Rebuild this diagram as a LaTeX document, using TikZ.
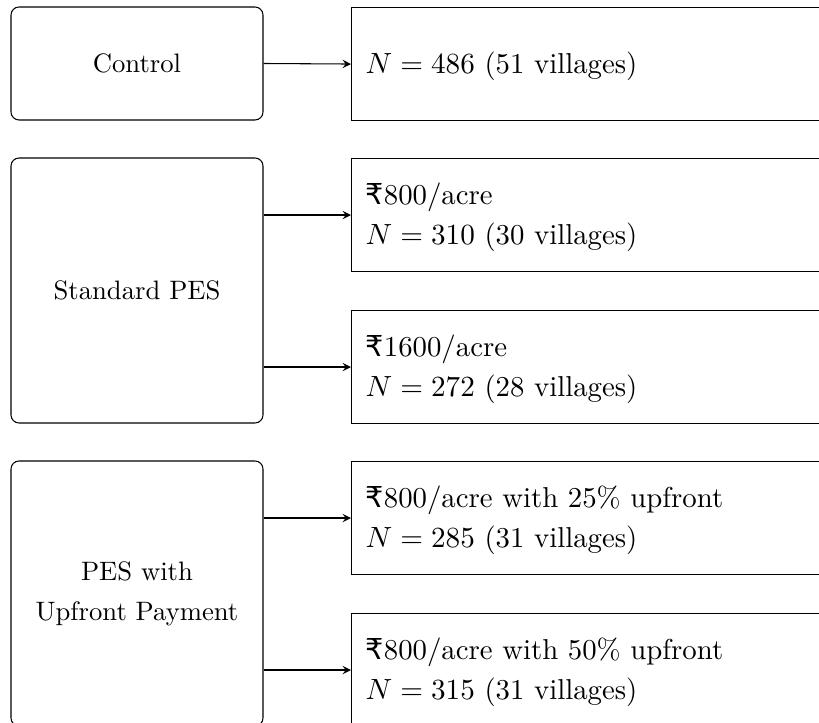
\documentclass[tikz,border=0pt]{standalone}
\usepackage{fontspec}
\newfontfamily\rupeefont{DejaVu Sans}
\newcommand{\Rs}{{\rupeefont ₹}}
\begin{document}
\begin{tikzpicture}[x=0.375pt,y=-0.375pt,
  group/.style={draw, rounded corners=3pt, minimum width=252*0.375pt, align=center, inner sep=0pt,
    font=\fontsize{10}{15}\selectfont},
  arm/.style={draw, anchor=north west, minimum width=600*0.375pt, minimum height=113*0.375pt, inner sep=0pt},
  armtext/.style={anchor=west, align=left, inner sep=0pt, font=\fontsize{10.8}{15}\selectfont},
  link/.style={->, >=stealth}]
  \useasboundingbox (0,0) rectangle (819,723);
  \clip (0,0) rectangle (819,723);

  % treatment groups
  \node[group, minimum height=113*0.375pt] (ctrl) at (137,63.5) {Control};
  \node[group, minimum height=265*0.375pt] (std) at (137,290.5) {Standard PES};
  \node[group, minimum height=265*0.375pt] (up) at (137,593.5) {PES with\\ Upfront Payment};

  % payment arms
  \node[arm] (r1) at (351,7) {};
  \node[arm] (r2a) at (351,158) {};
  \node[arm] (r2b) at (351,310) {};
  \node[arm] (r3a) at (351,461) {};
  \node[arm] (r3b) at (351,613) {};

  \node[armtext] (t1) at ([xshift=14*0.375pt,yshift=-1pt]r1.west) {$N=486$ (51 villages)};
  \node[armtext] (t2a) at ([xshift=14*0.375pt,yshift=-1pt]r2a.west) {\Rs800/acre\\ $N=310$ (30 villages)};
  \node[armtext] (t2b) at ([xshift=14*0.375pt,yshift=-1pt]r2b.west) {\Rs1600/acre\\ $N=272$ (28 villages)};
  \node[armtext] (t3a) at ([xshift=14*0.375pt,yshift=-1pt]r3a.west) {\Rs800/acre with 25\% upfront\\ $N=285$ (31 villages)};
  \node[armtext] (t3b) at ([xshift=14*0.375pt,yshift=-1pt]r3b.west) {\Rs800/acre with 50\% upfront\\ $N=315$ (31 villages)};

  % connectors
  \draw[link] (ctrl.east) -- (r1.west);
  \draw[link] (std.east |- r2a.west) -- (r2a.west);
  \draw[link] (std.east |- r2b.west) -- (r2b.west);
  \draw[link] (up.east |- r3a.west) -- (r3a.west);
  \draw[link] (up.east |- r3b.west) -- (r3b.west);
\end{tikzpicture}
\end{document}
